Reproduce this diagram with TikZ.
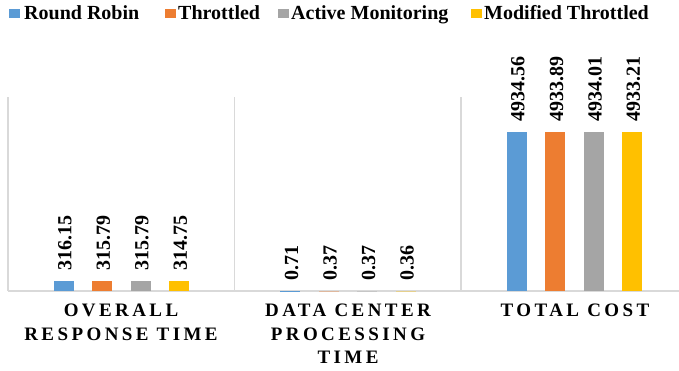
\documentclass[tikz,border=0pt]{standalone}
\usepackage{fontspec}
\setmainfont{Liberation Serif}
\newfontfamily\capsfont{Liberation Serif}[LetterSpace=18]
\definecolor{rrc}{HTML}{5B9BD5}
\definecolor{thc}{HTML}{ED7D31}
\definecolor{amc}{HTML}{A5A5A5}
\definecolor{mtc}{HTML}{FFC000}
\definecolor{gridc}{HTML}{D9D9D9}
\tikzset{
  gridline/.style={draw=gridc, line width=1.3pt},
  barbox/.style={draw=none, inner sep=0pt, minimum width=20pt, anchor=south, outer sep=0pt},
  vlabel/.style={font=\fontsize{20}{20}\selectfont\bfseries, rotate=90, anchor=west, inner sep=0pt},
  legmark/.style={draw=none, inner sep=0pt, minimum width=11pt, minimum height=9pt},
  legtext/.style={font=\fontsize{20}{20}\selectfont\bfseries, anchor=base west, inner sep=0pt},
  cattext/.style={font=\capsfont\fontsize{19}{19}\selectfont\bfseries, anchor=base, inner sep=0pt}
}
\begin{document}
\begin{tikzpicture}[x=1pt,y=-1pt]
\useasboundingbox (0,0) rectangle (679,370);
% axis and separators
\coordinate (axL) at (8,291);
\coordinate (axR) at (679,291);
\coordinate (s0t) at (8,97);
\coordinate (s1t) at (234.5,97);
\coordinate (s1b) at (234.5,291);
\coordinate (s2t) at (461,97);
\coordinate (s2b) at (461,291);
\draw[gridline] (s0t) -- (axL);
\draw[gridline] (s1t) -- (s1b);
\draw[gridline] (s2t) -- (s2b);
\draw[gridline] (axL) -- (axR);
% bars and value labels
\foreach \n/\x/\v/\c in {
  a1/63.5/316.15/rrc, a2/102/315.79/thc, a3/140.5/315.79/amc, a4/179/314.75/mtc,
  b1/290/0.71/rrc, b2/328.5/0.37/thc, b3/367/0.37/amc, b4/405.5/0.36/mtc,
  c1/516.5/4934.56/rrc, c2/555/4933.89/thc, c3/593.5/4934.01/amc, c4/632/4933.21/mtc}{
  \node[barbox, fill=\c, minimum height={(\v*0.03222)*1pt}] (bar\n) at (\x,291) {};
  \node[vlabel] (lab\n) at ([xshift=1.5pt,yshift=10pt]bar\n.north) {\v};
}
% legend
\node[legmark, fill=rrc] (m1) at (14,13) {};
\node[legtext] (t1) at (24,19) {Round Robin};
\node[legmark, fill=thc] (m2) at (170,13) {};
\node[legtext] (t2) at (178,19) {Throttled};
\node[legmark, fill=amc] (m3) at (283,13) {};
\node[legtext] (t3) at (291,19) {Active Monitoring};
\node[legmark, fill=mtc] (m4) at (476,13) {};
\node[legtext] (t4) at (484,19) {Modified Throttled};
% category labels
\node[cattext] (ca1) at (121,316.5) {OVERALL};
\node[cattext] (ca2) at (121,340) {RESPONSE TIME};
\node[cattext] (cb1) at (348,316.5) {DATA CENTER};
\node[cattext] (cb2) at (348,340) {PROCESSING};
\node[cattext] (cb3) at (348,363) {TIME};
\node[cattext] (cc1) at (575,316.5) {TOTAL COST};
\end{tikzpicture}
\end{document}
